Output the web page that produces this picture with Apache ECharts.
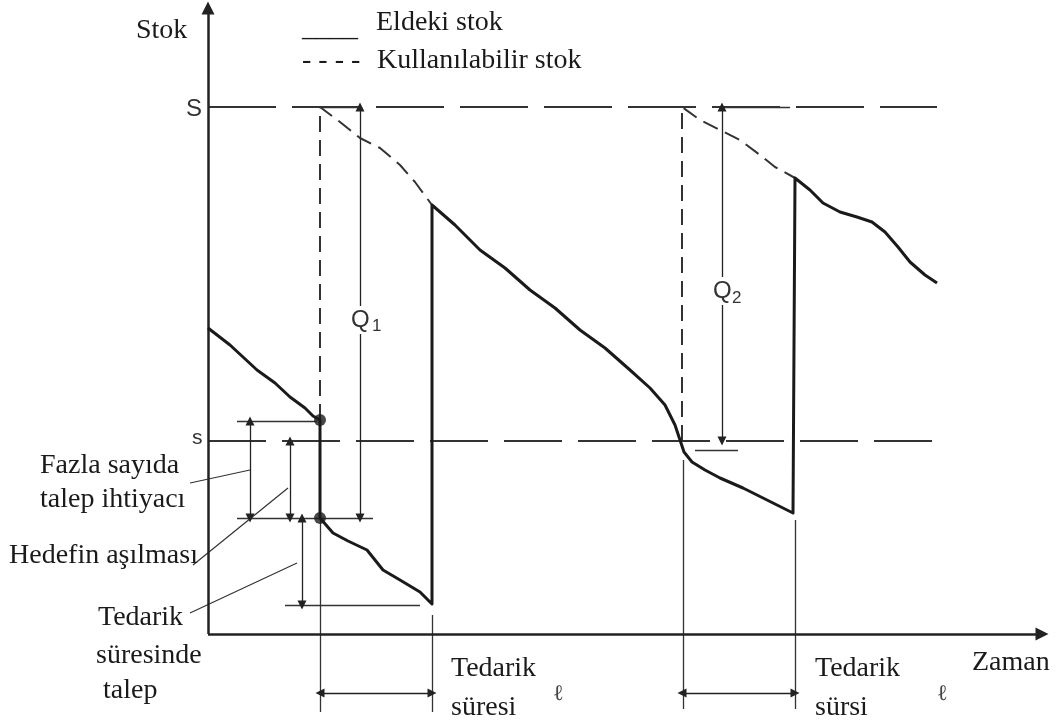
<!DOCTYPE html>
<html>
<head>
<meta charset="utf-8">
<script src="https://cdn.jsdelivr.net/npm/echarts@6/dist/echarts.min.js"></script>
<style>
  html, body { margin: 0; padding: 0; background: #fff; }
  #chart { width: 1059px; height: 722px; }
</style>
</head>
<body>
<div id="chart"></div>
<script>
// units: time to the right of the stock axis, stock above the time axis
const levelS = 527;      // S
const levelSmall = 193;  // s
const horizonEnd = 729;

// eldeki stok (on hand), one continuous line
const onHand = [
  [0,306],[22,289],[49,264],[67,251],[82,237],[97,226],[105,218],[112,214],
  [112,116],[125,101],[140,93],[159,84],[175,64],[192,54],[212,42],[224,30],
  [224,429],[247,409],[272,384],[297,366],[322,344],[347,326],[372,304],[397,286],
  [422,264],[442,246],[457,229],[467,209],[472,194],[476,182],[484,172],[497,164],
  [512,156],[535,146],[559,134],[585,121],
  [587,456],[602,444],[615,431],[632,422],[649,417],[664,412],[677,402],[690,387],
  [702,372],[717,359],[729,351]
];

// kullanilabilir stok (available), dashed
const available1 = [[112,214],[112,527],[132,512],[152,496],[172,486],[192,469],[207,452],[224,429]];
const available2 = [[474,193],[474,527],[492,514],[512,504],[532,494],[552,479],[567,467],[587,456]];

// order points (the two dots)
const orderDots = [[112,214],[112,116]];

// axes
const axisLines = [
  [[0,0],[834,0]],
  [[0,0],[0,626]]
];

// dimension arrows (two heads)
const dimArrows = [
  [[152,527],[152,116]],   // Q1
  [[514,527],[514,193]],   // Q2
  [[42,213],[42,116]],
  [[82,193],[82,116]],
  [[94,116],[94,29]],
  [[112,-59],[224,-59]],   // lead time 1
  [[474,-59],[587,-59]]    // lead time 2
];

// thin helper lines
const helperLines = [
  [[29,116],[165,116]],
  [[29,213],[109,213]],
  [[77,29],[212,29]],
  [[487,184],[530,184]],
  [[112,116],[112,-78]],
  [[224,19],[224,-78]],
  [[475,174],[475,-75]],
  [[587,114],[587,-75]],
  [[111,527],[152,527]],
  [[511,527],[582,527]]
];

// leader lines from the left labels
const leaderLines = [
  [[-18,151],[42,164]],
  [[-15,69],[80,146]],
  [[-18,21],[89,71]]
];

const levelLinesS = [[[0,levelS],[horizonEnd,levelS]]];
const levelLinesSmall = [[[0,levelSmall],[horizonEnd,levelSmall]]];

const ink = '#1a1a1a';
const serif = '"Liberation Serif", "DejaVu Serif", serif';
const sans = '"Liberation Sans", Arial, sans-serif';

function segs(list) {
  return list.map(function (c) { return { coords: c }; });
}

function txt(text, left, top, size, family, color, bg) {
  const el = {
    type: 'text', left: left, top: top, z: 100,
    style: { text: text, font: size + 'px ' + (family || serif), fill: color || ink }
  };
  if (bg) {
    el.style.backgroundColor = '#fff';
    el.style.padding = [2, 1];
  }
  return el;
}

let myChart = echarts.init(document.getElementById('chart'));

const option = {
  animation: false,
  backgroundColor: '#fff',
  grid: { left: 0, right: 0, top: 0, bottom: 0 },
  xAxis: { type: 'value', min: -208, max: 851, show: false },
  yAxis: { type: 'value', min: -88, max: 634, show: false },
  series: [
    {
      type: 'lines', coordinateSystem: 'cartesian2d',
      data: segs(levelLinesS), symbol: 'none',
      lineStyle: { color: '#333', width: 2, type: [68, 16], opacity: 1 }
    },
    {
      type: 'lines', coordinateSystem: 'cartesian2d',
      data: segs(levelLinesSmall), symbol: 'none',
      lineStyle: { color: '#333', width: 2, type: [58, 16], opacity: 1 }
    },
    {
      type: 'lines', coordinateSystem: 'cartesian2d',
      data: segs(helperLines), symbol: 'none',
      lineStyle: { color: '#333', width: 1.3, opacity: 1 }
    },
    {
      type: 'lines', coordinateSystem: 'cartesian2d',
      data: segs(leaderLines), symbol: 'none',
      lineStyle: { color: '#333', width: 1.2, opacity: 1 }
    },
    {
      type: 'lines', coordinateSystem: 'cartesian2d',
      data: segs(dimArrows), symbol: ['triangle', 'triangle'], symbolSize: 9,
      lineStyle: { color: '#222', width: 1.3, opacity: 1 }
    },
    {
      type: 'lines', coordinateSystem: 'cartesian2d',
      data: segs(axisLines), symbol: ['none', 'triangle'], symbolSize: 13,
      lineStyle: { color: '#222', width: 2.5, opacity: 1 }
    },
    {
      type: 'line', data: available1, symbol: 'none',
      lineStyle: { color: '#333', width: 2, type: [16, 8] }
    },
    {
      type: 'line', data: available2, symbol: 'none',
      lineStyle: { color: '#333', width: 2, type: [16, 8] }
    },
    {
      type: 'line', data: onHand, symbol: 'none', z: 5,
      lineStyle: { color: ink, width: 3, join: 'round' }
    },
    {
      type: 'scatter', data: orderDots, symbolSize: 12, z: 6,
      itemStyle: { color: ink }
    }
  ],
  graphic: [
    txt('Stok', 136, 17, 28),
    txt('____', 302, 15, 28),
    txt('Eldeki stok', 376, 9, 28),
    txt('- - - -', 302, 47, 28),
    txt('Kullanılabilir stok', 377, 47, 28),
    txt('S', 186, 97, 24, sans, '#333'),
    txt('s', 192, 428, 21, sans, '#333'),
    txt('Q', 350, 306, 24, sans, '#333', true),
    txt('1', 372, 318, 17, sans, '#333'),
    txt('Q', 712, 277, 24, sans, '#333', true),
    txt('2', 732, 290, 17, sans, '#333'),
    txt('Fazla sayıda', 40, 452, 28),
    txt('talep ihtiyacı', 40, 486, 28),
    txt('Hedefin aşılması', 9, 542, 28),
    txt('Tedarik', 98, 604, 28),
    txt('süresinde', 96, 642, 28),
    txt('talep', 103, 677, 28),
    txt('Tedarik', 451, 655, 28),
    txt('süresi', 451, 694, 28),
    txt('ℓ', 553, 683, 22, serif, '#444'),
    txt('Tedarik', 815, 655, 28),
    txt('sürsi', 815, 694, 28),
    txt('ℓ', 937, 683, 22, serif, '#444'),
    txt('Zaman', 972, 649, 28)
  ]
};

myChart.setOption(option);
</script>
</body>
</html>
